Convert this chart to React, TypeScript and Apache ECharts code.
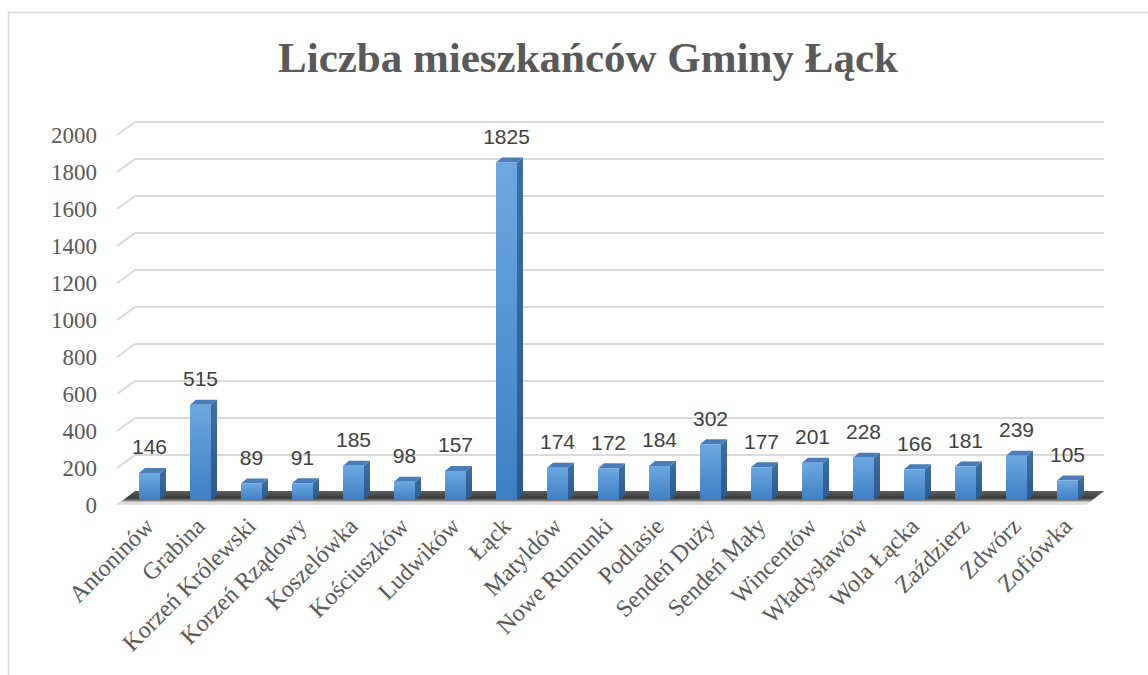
import React, { useEffect, useRef } from "react";
import * as echarts from "echarts";

const titleText = "Liczba mieszkańców Gminy Łąck";

const categories = [
  "Antoninów",
  "Grabina",
  "Korzeń Królewski",
  "Korzeń Rządowy",
  "Koszelówka",
  "Kościuszków",
  "Ludwików",
  "Łąck",
  "Matyldów",
  "Nowe Rumunki",
  "Podlasie",
  "Sendeń Duży",
  "Sendeń Mały",
  "Wincentów",
  "Władysławów",
  "Wola Łącka",
  "Zaździerz",
  "Zdwórz",
  "Zofiówka",
];

const population = [146, 515, 89, 91, 185, 98, 157, 1825, 174, 172, 184, 302, 177, 201, 228, 166, 181, 239, 105];

const yTicks = [0, 200, 400, 600, 800, 1000, 1200, 1400, 1600, 1800, 2000];

const Y_MIN = 0;
const Y_MAX = 2000;
const Y_STEP = 200;

export default function App() {
  const ref = useRef<HTMLDivElement>(null);

  useEffect(() => {
    if (!ref.current) return;
    const chart = echarts.init(ref.current, undefined, { renderer: "svg" });

    const serif = "Liberation Serif";
    const DEPTH_X = 18;
    const DEPTH_Y = 13;

    const frontFill = new echarts.graphic.LinearGradient(0, 0, 0, 1, [
      { offset: 0, color: "#6ea8e0" },
      { offset: 1, color: "#3e7fc4" },
    ]);
    const sideFill = new echarts.graphic.LinearGradient(0, 0, 0, 1, [
      { offset: 0, color: "#3d6fa6" },
      { offset: 1, color: "#2a5a8e" },
    ]);
    const floorFill = new echarts.graphic.LinearGradient(0, 0, 0, 1, [
      { offset: 0, color: "#5f5f5f" },
      { offset: 0.5, color: "#3a3a3a" },
      { offset: 0.7, color: "#8a8a8a" },
      { offset: 0.78, color: "#d9d9d9" },
      { offset: 1, color: "#e3e3e3" },
    ]);

    const option: any = {
      animation: false,
      backgroundColor: "#ffffff",
      textStyle: { fontFamily: serif },
      title: {
        text: titleText,
        left: 273,
        top: 31,
        textStyle: {
          fontFamily: serif,
          fontWeight: "bold",
          fontSize: 43,
          color: "#595959",
        },
      },
      graphic: [
        {
          type: "line",
          shape: { x1: 8.5, y1: 12, x2: 8.5, y2: 675 },
          style: { stroke: "#d9d9d9", lineWidth: 1.5 },
        },
        {
          type: "line",
          shape: { x1: 8, y1: 12.5, x2: 1148, y2: 12.5 },
          style: { stroke: "#d9d9d9", lineWidth: 1.5 },
        },
      ],
      grid: [
        { left: 135, top: 122, width: 969, height: 370 },
        { left: 117, top: 135, width: 969, height: 370 },
        { left: 124, top: 130, width: 969, height: 370 },
      ],
      xAxis: [
        { gridIndex: 0, type: "category", data: categories, show: false },
        { gridIndex: 1, type: "category", data: categories, show: false },
        {
          gridIndex: 2,
          type: "category",
          data: categories,
          axisLine: { show: false },
          axisTick: { show: false },
          axisLabel: {
            rotate: 45,
            interval: 0,
            margin: 22,
            fontFamily: serif,
            fontSize: 24,
            color: "#595959",
          },
        },
      ],
      yAxis: [
        {
          gridIndex: 0,
          type: "value",
          min: Y_MIN,
          max: Y_MAX,
          interval: Y_STEP,
          axisLabel: { show: false },
          axisLine: { show: false },
          axisTick: { show: false },
          splitLine: { show: true, lineStyle: { color: "#d9d9d9", width: 2 } },
        },
        {
          gridIndex: 1,
          type: "value",
          min: Y_MIN,
          max: Y_MAX,
          interval: Y_STEP,
          axisLine: { show: false },
          axisTick: { show: false },
          splitLine: { show: false },
          axisLabel: {
            show: true,
            margin: 20,
            fontFamily: serif,
            fontSize: 23,
            color: "#595959",
            formatter: (v: number) => String(v),
          },
        },
        {
          gridIndex: 2,
          type: "value",
          min: Y_MIN,
          max: Y_MAX,
          interval: Y_STEP,
          show: false,
          splitLine: { show: false },
        },
      ],
      series: [
        {
          type: "custom",
          name: "diagonals",
          xAxisIndex: 0,
          yAxisIndex: 0,
          z: 1,
          silent: true,
          data: yTicks.map((v) => [0, v]),
          renderItem: (params: any, api: any) => {
            const cs = params.coordSys;
            const y = api.coord([0, api.value(1)])[1];
            return {
              type: "line",
              shape: { x1: cs.x - DEPTH_X, y1: y + DEPTH_Y, x2: cs.x, y2: y },
              style: { stroke: "#d9d9d9", lineWidth: 2 },
            };
          },
        },
        {
          type: "custom",
          name: "floor",
          xAxisIndex: 0,
          yAxisIndex: 0,
          z: 2,
          silent: true,
          data: [[0, Y_MIN]],
          renderItem: (params: any, api: any) => {
            const cs = params.coordSys;
            const y0 = api.coord([0, api.value(1)])[1];
            return {
              type: "polygon",
              shape: {
                points: [
                  [cs.x, y0 - 1],
                  [cs.x + cs.width, y0 - 1],
                  [cs.x + cs.width - DEPTH_X, y0 + DEPTH_Y],
                  [cs.x - DEPTH_X, y0 + DEPTH_Y],
                ],
              },
              style: { fill: floorFill },
            };
          },
        },
        {
          type: "custom",
          name: "Liczba mieszkańców",
          xAxisIndex: 2,
          yAxisIndex: 2,
          z: 3,
          data: population.map((v, i) => [i, v]),
          renderItem: (params: any, api: any) => {
            const i = api.value(0);
            const v = api.value(1);
            const base = api.coord([i, 0]);
            const top = api.coord([i, v]);
            const w = 21;
            const dx = 6;
            const dy = 5;
            const x0 = base[0] - w / 2;
            const x1 = base[0] + w / 2;
            const yt = top[1];
            const yb = base[1];
            return {
              type: "group",
              children: [
                {
                  type: "polygon",
                  shape: {
                    points: [
                      [x1, yt],
                      [x1 + dx, yt - dy],
                      [x1 + dx, yb - dy],
                      [x1, yb],
                    ],
                  },
                  style: { fill: sideFill },
                },
                {
                  type: "polygon",
                  shape: {
                    points: [
                      [x0, yt],
                      [x1, yt],
                      [x1 + dx, yt - dy],
                      [x0 + dx, yt - dy],
                    ],
                  },
                  style: { fill: "#4a7db8" },
                },
                {
                  type: "rect",
                  shape: { x: x0, y: yt, width: w, height: yb - yt },
                  style: { fill: frontFill },
                },
                {
                  type: "text",
                  style: {
                    text: String(v),
                    x: base[0],
                    y: yt - 26,
                    align: "center",
                    verticalAlign: "middle",
                    fontFamily: "Liberation Sans",
                    fontSize: 21,
                    fill: "#404040",
                  },
                },
              ],
            };
          },
        },
      ],
    };

    chart.setOption(option);
    return () => {
      chart.dispose();
    };
  }, []);

  return (
    <div
      ref={ref}
      style={{ position: "fixed", left: 0, top: 0, width: 1148, height: 675 }}
    />
  );
}
